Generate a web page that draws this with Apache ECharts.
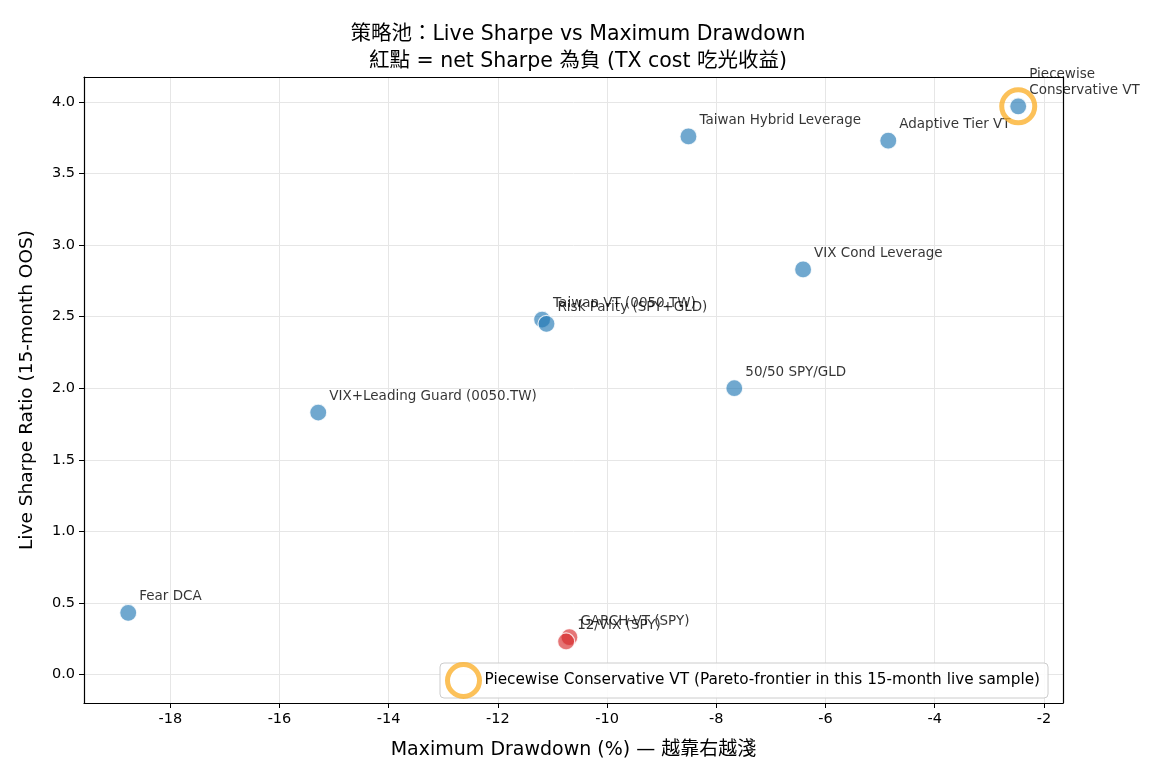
<!DOCTYPE html>
<html>
<head>
<meta charset="utf-8">
<script src="https://cdn.jsdelivr.net/npm/echarts@6/dist/echarts.min.js"></script>
<style>
  html, body { margin: 0; padding: 0; background: #fff; }
  #chart { width: 1170px; height: 780px; }
</style>
</head>
<body>
<div id="chart"></div>
<script>
// 策略資料
const names = [
  'Piecewise\nConservative VT', 'Adaptive Tier VT', 'Taiwan Hybrid Leverage',
  'VIX Cond Leverage', 'Taiwan VT (0050.TW)', 'Risk Parity (SPY+GLD)',
  '50/50 SPY/GLD', 'VIX+Leading Guard (0050.TW)', 'Fear DCA',
  'GARCH-VT (SPY)', '12/VIX (SPY)'
]
const maxDrawdown = [-2.47, -4.85, -8.51, -6.41, -11.19, -11.11, -7.67, -15.29, -18.77, -10.69, -10.75]
const liveSharpe = [3.97, 3.73, 3.76, 2.83, 2.48, 2.45, 2.0, 1.83, 0.43, 0.26, 0.23]
const negNetSharpe = [false, false, false, false, false, false, false, false, false, true, true]
const highlight = 'Piecewise Conservative VT (Pareto-frontier in this 15-month live sample)'

const FONT = 'DejaVu Sans, Noto Sans CJK TC, sans-serif'
const X_MIN = -19.58, X_MAX = -1.65
const Y_MIN = -0.2, Y_MAX = 4.175

const points = names.map((n, i) => ({
  name: n,
  value: [maxDrawdown[i], liveSharpe[i]],
  itemStyle: { color: negNetSharpe[i] ? 'rgba(214,39,40,0.8)' : 'rgba(31,119,180,0.8)' }
}))

// 上方、右方只畫框線
const frameAxis = {
  type: 'value',
  axisLine: { show: true, onZero: false, lineStyle: { color: '#000', width: 1.2 } },
  axisTick: { show: false },
  axisLabel: { show: false },
  splitLine: { show: false }
}

const myChart = echarts.init(document.getElementById('chart'))
myChart.setOption({
  animation: false,
  textStyle: { fontFamily: FONT },
  title: {
    text: '策略池：Live Sharpe vs Maximum Drawdown\n紅點 = net Sharpe 為負 (TX cost 吃光收益)',
    left: 573,
    top: 16,
    textAlign: 'center',
    textStyle: { fontSize: 20.5, fontWeight: 'normal', color: '#000', lineHeight: 27, fontFamily: FONT }
  },
  grid: { left: 84, right: 107, top: 77, bottom: 77 },
  xAxis: [
    {
      type: 'value',
      min: X_MIN,
      max: X_MAX,
      splitNumber: 9,
      name: 'Maximum Drawdown (%) — 越靠右越淺',
      nameLocation: 'middle',
      nameGap: 38,
      nameTextStyle: { fontSize: 19, color: '#000', fontFamily: FONT },
      axisLine: { onZero: false, lineStyle: { color: '#000', width: 1.2 } },
      axisTick: { length: 5, lineStyle: { color: '#000' } },
      axisLabel: { fontSize: 14.5, color: '#000', margin: 9, showMinLabel: false, showMaxLabel: false },
      splitLine: { lineStyle: { color: '#e6e6e6' } }
    },
    Object.assign({ position: 'top', min: X_MIN, max: X_MAX }, frameAxis)
  ],
  yAxis: [
    {
      type: 'value',
      min: Y_MIN,
      max: Y_MAX,
      splitNumber: 9,
      name: 'Live Sharpe Ratio (15-month OOS)',
      nameLocation: 'middle',
      nameGap: 48,
      nameTextStyle: { fontSize: 18.5, color: '#000', fontFamily: FONT },
      axisLine: { show: true, onZero: false, lineStyle: { color: '#000', width: 1.2 } },
      axisTick: { show: true, length: 5, lineStyle: { color: '#000' } },
      axisLabel: {
        fontSize: 14.5, color: '#000', margin: 9, showMinLabel: false, showMaxLabel: false,
        formatter: v => v.toFixed(1)
      },
      splitLine: { lineStyle: { color: '#e6e6e6' } }
    },
    Object.assign({ position: 'right', min: Y_MIN, max: Y_MAX }, frameAxis)
  ],
  legend: {
    data: [highlight],
    left: 440,
    top: 663,
    orient: 'horizontal',
    itemWidth: 32,
    itemHeight: 32,
    itemGap: 10,
    padding: [-1, 8, -1, 5],
    borderColor: '#cccccc',
    borderWidth: 1,
    borderRadius: 4,
    backgroundColor: 'rgba(255,255,255,0.85)',
    itemStyle: { borderWidth: 5 },
    textStyle: { fontSize: 15.3, color: '#000', fontFamily: FONT }
  },
  series: [
    {
      name: 'strategies',
      type: 'scatter',
      symbolSize: 17,
      data: points,
      itemStyle: { borderColor: '#fff', borderWidth: 1.2 },
      label: {
        show: true,
        position: 'inside',
        offset: [11, -8],
        align: 'left',
        verticalAlign: 'bottom',
        formatter: p => p.name,
        fontSize: 13.5,
        lineHeight: 16,
        color: '#000',
        textBorderWidth: 0,
        fontFamily: FONT
      },
      emphasis: { disabled: true }
    },
    {
      name: highlight,
      type: 'scatter',
      symbol: 'circle',
      symbolSize: 33,
      data: [[maxDrawdown[0], liveSharpe[0]]],
      itemStyle: { color: 'rgba(0,0,0,0)', borderColor: '#fbb22f', borderWidth: 5 },
      z: 5,
      emphasis: { disabled: true }
    }
  ]
})
</script>
</body>
</html>
